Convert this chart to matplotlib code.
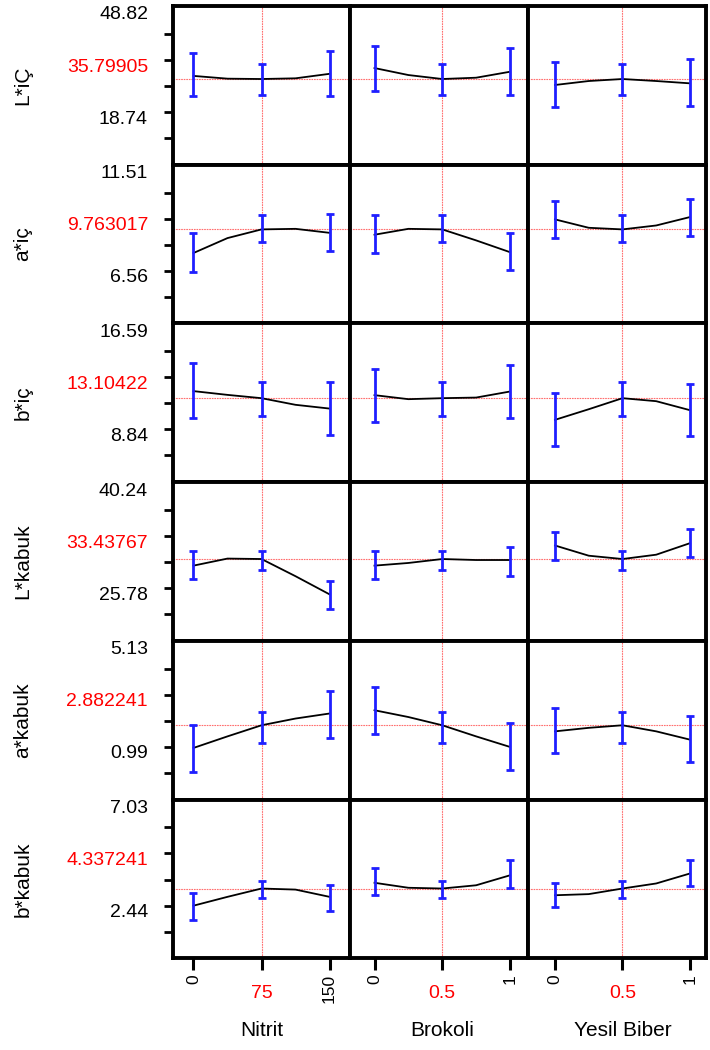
import numpy as np
import matplotlib.pyplot as plt

plt.rcParams['font.family'] = ['Liberation Sans', 'DejaVu Sans']

# factors (columns)
factors = ['Nitrit', 'Brokoli', 'Yesil Biber']
factor_grid = [[0, 37.5, 75, 112.5, 150],
               [0, 0.25, 0.5, 0.75, 1],
               [0, 0.25, 0.5, 0.75, 1]]
design_pts = [[0, 75, 150], [0, 0.5, 1], [0, 0.5, 1]]
factor_now = [75, 0.5, 0.5]
factor_ticklabels = [['0', '75', '150'], ['0', '0.5', '1'], ['0', '0.5', '1']]

# responses (rows)
responses = ['L*iÇ', 'a*iç', 'b*iç', 'L*kabuk', 'a*kabuk', 'b*kabuk']
axis_hi = [48.82, 11.51, 16.59, 40.24, 5.13, 7.03]
axis_lo = [18.74, 6.56, 8.84, 25.78, 0.99, 2.44]
predicted = [35.79905, 9.763017, 13.10422, 33.43767, 2.882241, 4.337241]

# profile traces, one list per factor
prof_L_ic = [[36.7, 35.9, 35.80, 36.0, 37.3],
             [38.97, 36.95, 35.80, 36.18, 37.9],
             [34.07, 35.22, 35.80, 35.22, 34.55]]
prof_a_ic = [[8.64, 9.35, 9.763, 9.79, 9.60],
             [9.51, 9.79, 9.763, 9.24, 8.68],
             [10.24, 9.84, 9.763, 9.95, 10.35]]
prof_b_ic = [[13.63, 13.35, 13.104, 12.61, 12.33],
             [13.33, 13.03, 13.104, 13.15, 13.60],
             [11.49, 12.28, 13.104, 12.88, 12.21]]
prof_L_kabuk = [[32.52, 33.50, 33.438, 31.05, 28.53],
                [32.52, 32.89, 33.438, 33.30, 33.30],
                [35.32, 33.90, 33.438, 34.04, 35.64]]
prof_a_kabuk = [[1.98, 2.44, 2.882, 3.15, 3.35],
                [3.48, 3.21, 2.882, 2.44, 2.02],
                [2.64, 2.78, 2.882, 2.64, 2.31]]
prof_b_kabuk = [[3.58, 3.97, 4.337, 4.29, 3.97],
                [4.59, 4.37, 4.337, 4.48, 4.92],
                [4.04, 4.09, 4.337, 4.56, 5.00]]

# confidence limits at the design points (low / high)
ci_L_ic_lo = [[30.8, 31.3, 30.8], [32.4, 31.3, 31.3], [27.6, 31.3, 28.1]]
ci_L_ic_hi = [[43.3, 40.0, 43.8], [45.4, 40.0, 44.7], [40.6, 40.0, 41.6]]
ci_a_ic_lo = [[7.73, 9.16, 8.72], [8.62, 9.16, 7.84], [9.35, 9.16, 9.43]]
ci_a_ic_hi = [[9.60, 10.43, 10.51], [10.43, 10.43, 9.60], [11.13, 10.43, 11.22]]
ci_b_ic_lo = [[11.64, 11.74, 10.37], [11.34, 11.74, 11.64], [9.55, 11.74, 10.25]]
ci_b_ic_hi = [[15.71, 14.32, 14.32], [15.27, 14.32, 15.56], [13.48, 14.32, 14.15]]
ci_L_kabuk_lo = [[30.68, 31.88, 26.55], [30.68, 31.88, 31.14], [33.25, 31.88, 33.71]]
ci_L_kabuk_hi = [[34.59, 34.49, 30.45], [34.59, 34.49, 35.05], [37.16, 34.49, 37.61]]
ci_a_kabuk_lo = [[1.02, 2.18, 2.38], [2.52, 2.18, 1.12], [1.78, 2.18, 1.41]]
ci_a_kabuk_hi = [[2.91, 3.41, 4.24], [4.39, 3.41, 2.97], [3.57, 3.41, 3.27]]
ci_b_kabuk_lo = [[2.95, 3.93, 3.36], [4.04, 3.93, 4.37], [3.53, 3.93, 4.44]]
ci_b_kabuk_hi = [[4.12, 4.67, 4.51], [5.24, 4.67, 5.58], [4.59, 4.67, 5.58]]

profiles = [prof_L_ic, prof_a_ic, prof_b_ic, prof_L_kabuk, prof_a_kabuk, prof_b_kabuk]
ci_lo = [ci_L_ic_lo, ci_a_ic_lo, ci_b_ic_lo, ci_L_kabuk_lo, ci_a_kabuk_lo, ci_b_kabuk_lo]
ci_hi = [ci_L_ic_hi, ci_a_ic_hi, ci_b_ic_hi, ci_L_kabuk_hi, ci_a_kabuk_hi, ci_b_kabuk_hi]

W, H = 710, 1050
fig = plt.figure(figsize=(W / 100, H / 100), dpi=100)

col_edges = [173, 350, 528, 706]
row_top, row_h = 6, 158.7
xlims = [(-22.6, 172.6), (-0.181, 1.133), (-0.2, 1.119)]

for i in range(6):
    hi, lo = axis_hi[i], axis_lo[i]
    span = hi - lo
    for j in range(3):
        x0 = col_edges[j]
        w = col_edges[j + 1] - col_edges[j]
        y1 = row_top + (i + 1) * row_h
        ax = fig.add_axes([x0 / W, 1 - y1 / H, w / W, row_h / H])
        ax.set_xlim(*xlims[j])
        ax.set_ylim(lo - 0.2566 * span, hi + 0.2691 * span)

        # current settings
        ax.axhline(predicted[i], color='#ff3030', lw=0.8, alpha=0.7,
                   ls=(0, (1.5, 0.8)), zorder=1)
        ax.axvline(factor_now[j], color='#ff3030', lw=0.8, alpha=0.7,
                   ls=(0, (1.5, 0.8)), zorder=1)

        ax.plot(factor_grid[j], profiles[i][j], color='black', lw=1.3, zorder=3)

        lo_ci = np.array(ci_lo[i][j])
        hi_ci = np.array(ci_hi[i][j])
        mid = (lo_ci + hi_ci) / 2
        ax.errorbar(design_pts[j], mid, yerr=[mid - lo_ci, hi_ci - mid], fmt='none',
                    ecolor='#1f1fff', elinewidth=2, capsize=3, capthick=2, zorder=4)

        for s in ax.spines.values():
            s.set_linewidth(2.8)
            s.set_color('black')

        ax.set_xticks([])
        ax.set_yticks([])

        if j == 0:
            yt = np.linspace(lo, hi, 5)
            ax.set_yticks(yt)
            ax.set_yticklabels([])
            ax.tick_params(axis='y', direction='out', length=6.5, width=2)
            labels = [(lo, f'{lo:.2f}', 'black'),
                      (yt[2], f'{predicted[i]}', 'red'),
                      (hi, f'{hi:.2f}', 'black')]
            for val, txt, c in labels:
                ax.annotate(txt, xy=(0, val), xycoords=('axes fraction', 'data'),
                            xytext=(-25, 19), textcoords='offset pixels',
                            ha='right', va='center', fontsize=14, color=c,
                            annotation_clip=False)
            ax.text(-0.847, 0.5, responses[i], transform=ax.transAxes,
                    rotation=90, ha='center', va='center', fontsize=15)

        if i == 5:
            ax.set_xticks(design_pts[j])
            ax.set_xticklabels([])
            ax.tick_params(axis='x', direction='out', length=8.5, width=2.2)
            for k, (val, txt) in enumerate(zip(design_pts[j], factor_ticklabels[j])):
                if k == 1:
                    ax.annotate(txt, xy=(val, 0), xycoords=('data', 'axes fraction'),
                                xytext=(0, -35), textcoords='offset pixels',
                                ha='center', va='center', fontsize=14, color='red',
                                annotation_clip=False)
                else:
                    ax.annotate(txt, xy=(val, 0), xycoords=('data', 'axes fraction'),
                                xytext=(0, -16), textcoords='offset pixels',
                                ha='center', va='top', rotation=90, fontsize=12.5,
                                annotation_clip=False)
            ax.annotate(factors[j], xy=(factor_now[j], 0),
                        xycoords=('data', 'axes fraction'),
                        xytext=(0, -72), textcoords='offset pixels',
                        ha='center', va='center', fontsize=15,
                        annotation_clip=False)

fig.savefig('out.png', dpi=100)
